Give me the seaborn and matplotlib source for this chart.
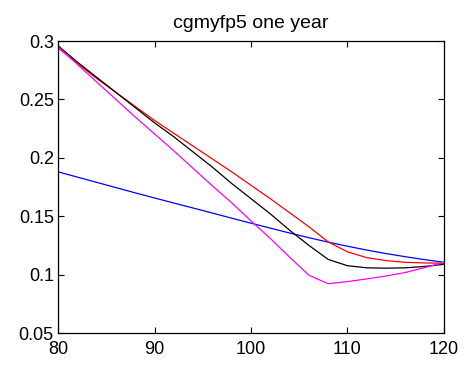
import matplotlib
matplotlib.use("Agg")
import matplotlib.pyplot as plt
import seaborn as sns
import pandas as pd
from matplotlib.ticker import FuncFormatter

strikes = [80, 82, 84, 86, 88, 90, 92, 94, 96, 98, 100,
           102, 104, 106, 108, 110, 112, 114, 116, 118, 120]

red_vals = [0.294, 0.281, 0.268, 0.256, 0.244, 0.232, 0.221, 0.210, 0.199, 0.188, 0.1765,
            0.165, 0.153, 0.141, 0.128, 0.1195, 0.1145, 0.112, 0.1105, 0.110, 0.1097]
black_vals = [0.296, 0.282, 0.269, 0.256, 0.243, 0.230, 0.218, 0.205, 0.192, 0.178, 0.165,
              0.152, 0.138, 0.125, 0.113, 0.1076, 0.1058, 0.1055, 0.1058, 0.107, 0.1088]
magenta_vals = [0.295, 0.280, 0.265, 0.250, 0.235, 0.2205, 0.206, 0.191, 0.176, 0.1615, 0.146,
                0.131, 0.115, 0.0995, 0.0922, 0.0940, 0.0963, 0.0988, 0.1018, 0.106, 0.1105]
blue_vals = [0.188, 0.1835, 0.179, 0.1745, 0.170, 0.1656, 0.1613, 0.157, 0.1527, 0.1483, 0.144,
             0.1398, 0.1356, 0.1316, 0.1278, 0.1243, 0.121, 0.118, 0.1153, 0.1128, 0.1105]

series_names = ["blue", "red", "black", "magenta"]
series_colors = {"blue": "#0000FF", "red": "#FF0000", "black": "#000000", "magenta": "#FF00FF"}

title = "cgmyfp5 one year"
x_ticks = [80, 90, 100, 110, 120]
y_ticks = [0.05, 0.1, 0.15, 0.2, 0.25, 0.3]

rows = []
for name, vals in zip(series_names, [blue_vals, red_vals, black_vals, magenta_vals]):
    for s, v in zip(strikes, vals):
        rows.append({"strike": s, "value": v, "series": name})
df = pd.DataFrame(rows)

sns.set_theme(style="white")
plt.rcParams["font.family"] = ["Liberation Sans", "DejaVu Sans"]
plt.rcParams["text.color"] = "black"

fig = plt.figure(figsize=(4.66, 3.66), dpi=100)
ax = fig.add_axes([58 / 466, 33 / 366, 386 / 466, 292 / 366])

sns.lineplot(data=df, x="strike", y="value", hue="series", palette=series_colors,
             hue_order=series_names, ax=ax, linewidth=0.9, legend=False, sort=False)

ax.set_xlim(80, 120)
ax.set_ylim(0.05, 0.3)
ax.set_xticks(x_ticks)
ax.set_yticks(y_ticks)
ax.yaxis.set_major_formatter(FuncFormatter(lambda v, p: ("%g" % round(v, 4))))
ax.set_xlabel("")
ax.set_ylabel("")
ax.set_title(title, fontsize=14, pad=9, color="black")
ax.tick_params(axis="both", which="both", direction="in", length=4, width=0.8,
               labelsize=13, top=True, right=True, bottom=True, left=True, colors="black",
               pad=3)
ax.tick_params(axis="x", pad=6)
for sp in ax.spines.values():
    sp.set_visible(True)
    sp.set_color("black")
    sp.set_linewidth(0.9)

fig.savefig("out.png", dpi=100)
